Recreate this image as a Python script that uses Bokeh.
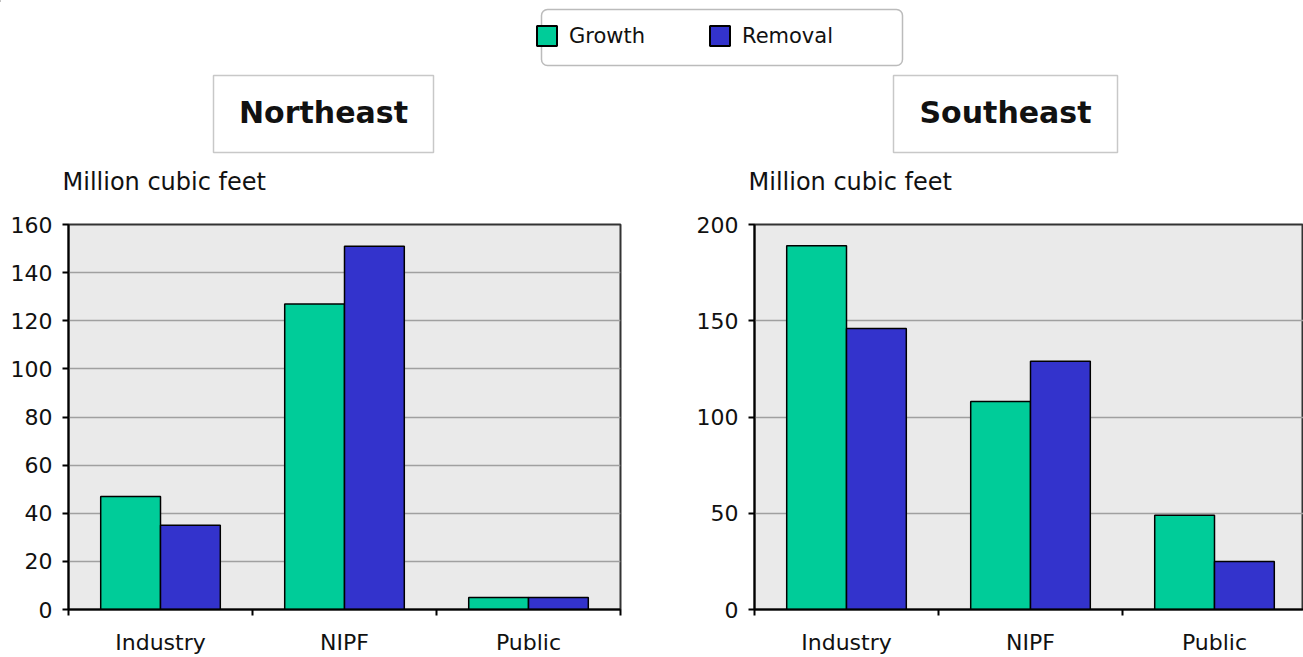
from bokeh.plotting import figure
from bokeh.layouts import column, row
from bokeh.models import (ColumnDataSource, FixedTicker, Range1d, BoxAnnotation,
                          Label, Legend, LegendItem)
from bokeh.transform import dodge
from bokeh.embed import file_html
from bokeh.resources import INLINE

# ---- data -------------------------------------------------------------
categories = ["Industry", "NIPF", "Public"]
series = ["Growth", "Removal"]
regions = ["Northeast", "Southeast"]
y_label = "Million cubic feet"

northeast_growth = [47, 127, 5]
northeast_removal = [35, 151, 5]
southeast_growth = [189, 108, 49]
southeast_removal = [146, 129, 25]

northeast_ticks = [0, 20, 40, 60, 80, 100, 120, 140, 160]
southeast_ticks = [0, 50, 100, 150, 200]

# ---- style ------------------------------------------------------------
GREEN = "#00CC99"
BLUE = "#3333CC"
PLOT_BG = "#EAEAEA"
GRID = "#A0A0A0"
FONT = "DejaVu Sans"
TEXT = "#111111"
BAR_W = 0.325
PANEL_H = 457


def panel(growth, removal, ticks, width, border_left, border_right, x_span):
    # categories sit at 1, 2, 3 on a numeric axis so the tick marks can fall
    # on the boundaries between them
    pos = list(range(1, len(categories) + 1))
    src = ColumnDataSource(dict(x=pos, growth=growth, removal=removal))
    p = figure(width=width, height=PANEL_H,
               x_range=Range1d(0.5, 0.5 + x_span),
               y_range=Range1d(ticks[0], ticks[-1]),
               output_backend="svg", toolbar_location=None,
               min_border_left=border_left, min_border_right=border_right,
               min_border_top=24, min_border_bottom=47)
    p.background_fill_color = PLOT_BG
    p.border_fill_color = "white"
    p.outline_line_color = "#333333"
    p.outline_line_width = 2

    p.vbar(x=dodge("x", -BAR_W / 2), top="growth", bottom=0, width=BAR_W,
           fill_color=GREEN, line_color="black", line_width=1.5, source=src)
    p.vbar(x=dodge("x", BAR_W / 2), top="removal", bottom=0, width=BAR_W,
           fill_color=BLUE, line_color="black", line_width=1.5, source=src)

    xt = FixedTicker(ticks=pos, minor_ticks=[v - 0.5 for v in pos] + [pos[-1] + 0.5])
    p.xaxis.ticker = xt
    p.xaxis.major_label_overrides = {v: c for v, c in zip(pos, categories)}
    p.xaxis.major_tick_out = 0
    p.xaxis.major_tick_in = 0
    p.xaxis.minor_tick_out = 6
    p.xaxis.minor_tick_in = 0
    p.xaxis.minor_tick_line_color = "black"
    p.xaxis.minor_tick_line_width = 2
    p.xaxis.axis_line_color = "black"
    p.xaxis.axis_line_width = 2
    p.xaxis.major_label_standoff = 14
    p.xaxis.major_label_text_font = FONT
    p.xaxis.major_label_text_font_size = "22px"
    p.xaxis.major_label_text_color = TEXT
    p.xgrid.visible = False

    yt = FixedTicker(ticks=ticks, minor_ticks=[])
    p.yaxis.ticker = yt
    p.ygrid.ticker = yt
    p.yaxis.major_tick_out = 6
    p.yaxis.major_tick_in = 0
    p.yaxis.minor_tick_out = 0
    p.yaxis.minor_tick_in = 0
    p.yaxis.major_tick_line_color = "black"
    p.yaxis.major_tick_line_width = 2
    p.yaxis.axis_line_color = "black"
    p.yaxis.axis_line_width = 2
    p.yaxis.major_label_standoff = 10
    p.yaxis.major_label_text_font = FONT
    p.yaxis.major_label_text_font_size = "22px"
    p.yaxis.major_label_text_color = TEXT
    p.ygrid.grid_line_color = GRID
    p.ygrid.grid_line_width = 1.5
    return p


left = panel(northeast_growth, northeast_removal, northeast_ticks,
             width=690, border_left=68, border_right=70, x_span=3)
right = panel(southeast_growth, southeast_removal, southeast_ticks,
              width=613, border_left=64, border_right=0, x_span=549 / 184)

# ---- header strip: shared legend, region titles and unit labels ----------
head = figure(width=1303, height=200, x_range=Range1d(0, 1303),
              y_range=Range1d(200, 0), x_axis_type=None, y_axis_type=None,
              output_backend="svg", toolbar_location=None, min_border=0)
head.outline_line_color = None
head.background_fill_color = "white"
head.border_fill_color = "white"
head.grid.visible = False

head.add_layout(BoxAnnotation(left=541, right=902, top=9, bottom=65,
                              border_radius=6, fill_color="white", fill_alpha=1,
                              line_color="#BBBBBB", line_alpha=1, line_width=1.5))

# legend-only renderers: a single flat bar parked left of the visible strip
swatches = {}
for name, color in zip(series, [GREEN, BLUE]):
    swatches[name] = head.vbar(x=[-100], top=[0], bottom=[0], width=1,
                               fill_color=color, line_color="black", line_width=2)

for name, x0 in zip(series, [534, 707]):
    leg = Legend(items=[LegendItem(label=name, renderers=[swatches[name]])],
                 location=(x0, 200 - 48), orientation="horizontal",
                 glyph_width=25, glyph_height=25, padding=0, margin=0,
                 label_standoff=10, border_line_color=None,
                 background_fill_alpha=0, label_text_font=FONT,
                 label_text_font_size="21px", label_text_color=TEXT)
    head.add_layout(leg, "center")

for name, (x0, x1) in zip(regions, [(213, 433), (893, 1117)]):
    head.add_layout(BoxAnnotation(left=x0, right=x1, top=75, bottom=152,
                                  fill_color="white", fill_alpha=1,
                                  line_color="#C8C8C8", line_alpha=1, line_width=1.5))
    head.add_layout(Label(x=(x0 + x1) / 2, y=112, text=name, text_align="center",
                          text_baseline="middle", text_font=FONT,
                          text_font_style="bold", text_font_size="30px",
                          text_color=TEXT))

for x0 in [62, 748]:
    head.add_layout(Label(x=x0, y=181, text=y_label, text_align="left",
                          text_baseline="middle", text_font=FONT,
                          text_font_size="24px", text_color=TEXT))

layout = column(head, row(left, right, spacing=0), spacing=0)

open("out.html", "w").write(file_html(layout, INLINE))
